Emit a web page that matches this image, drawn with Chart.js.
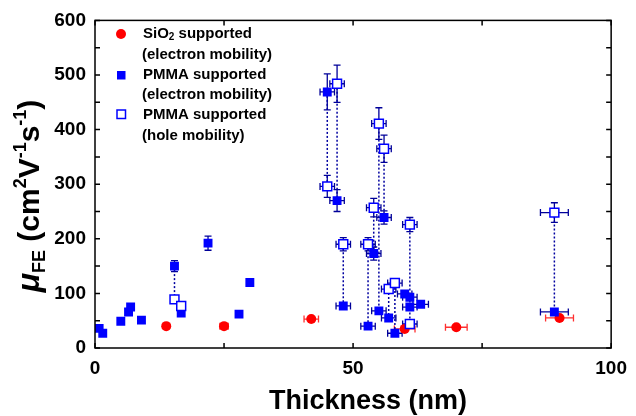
<!DOCTYPE html>
<html>
<head>
<meta charset="utf-8">
<script src="https://cdn.jsdelivr.net/npm/chart.js@4.4.0/dist/chart.umd.min.js"></script>
<style>
  html, body { margin: 0; padding: 0; background: #fff; }
</style>
</head>
<body>
<canvas id="chart" width="636" height="416"></canvas>
<script>
// SiO2 supported (electron mobility)
sio2_x    = [13.8, 25.0, 41.9, 60.0, 70.0, 90.0];
sio2_y    = [40, 40, 53, 35, 38, 55];
sio2_xerr = [0, 0.8, 1.4, 2.0, 2.1, 2.7];
sio2_yerr = [0, 0, 0, 0, 0, 0];

// PMMA supported (electron mobility)
pe_x    = [0.8, 1.5, 5.0, 6.5, 6.9, 9.0, 15.4, 16.7, 21.9, 27.9, 30.0,
           45.0, 46.9, 48.1, 54.0, 56.0, 60.0, 61.0, 63.1, 61.0, 55.0, 56.9, 52.9, 58.1, 89.0];
pe_y    = [36, 27, 49, 66, 75, 51, 150, 64, 192, 62, 120,
           469, 270, 77, 173, 239, 99, 93, 80, 75, 68, 55, 40, 27, 66];
pe_xerr = [0, 0, 0, 0, 0, 0, 0, 0, 0, 0, 0,
           1.4, 1.4, 1.4, 1.4, 1.4, 1.4, 1.4, 1.5, 1.4, 1.4, 1.4, 1.4, 1.4, 2.7];
pe_yerr = [0, 0, 0, 0, 0, 0, 10, 0, 13, 0, 6,
           33, 20, 5, 12, 12, 5, 5, 5, 5, 4, 4, 4, 4, 5];

// PMMA supported (hole mobility)
ph_x    = [15.4, 16.7, 45.0, 46.9, 48.1, 52.9, 54.0, 55.0, 56.0, 56.9, 58.1, 61.0, 61.0, 89.0];
ph_y    = [89, 77, 296, 484, 190, 190, 257, 411, 365, 108, 119, 226, 44, 248];
ph_xerr = [0, 0, 1.4, 1.4, 1.4, 1.4, 1.4, 1.4, 1.4, 1.4, 1.4, 1.4, 1.4, 2.7];
ph_yerr = [0, 0, 20, 34, 12, 12, 17, 29, 25, 8, 8, 13, 5, 18];

// dotted lines joining electron / hole values of one sample
pair_x   = [15.4, 45.0, 46.9, 48.1, 52.9, 54.0, 55.0, 56.0, 56.9, 58.1, 61.0, 89.0];
pair_top = [150, 469, 484, 190, 190, 257, 411, 365, 108, 119, 226, 248];
pair_bot = [89, 296, 270, 77, 40, 173, 68, 239, 55, 27, 44, 66];

x_ticks = [0, 25, 50, 75, 100];
y_ticks = [0, 50, 100, 150, 200, 250, 300, 350, 400, 450, 500, 550, 600];

FONT = "'Liberation Sans', Arial, sans-serif";

function pts(xs, ys) {
  let out = [];
  for (let i = 0; i < xs.length; i++) out.push({x: xs[i], y: ys[i]});
  return out;
}

datasets = [];
for (let i = 0; i < pair_x.length; i++) {
  datasets.push({
    type: 'line',
    data: [{x: pair_x[i], y: pair_top[i]}, {x: pair_x[i], y: pair_bot[i]}],
    borderColor: '#0000a0',
    borderWidth: 1.5,
    borderDash: [2, 2],
    pointRadius: 0,
    fill: false,
    order: 10,
  });
}
datasets.push({
  label: 'SiO2 supported',
  data: pts(sio2_x, sio2_y),
  errX: sio2_xerr, errY: sio2_yerr, errColor: '#ff3030',
  pointStyle: 'circle', pointRadius: 5,
  backgroundColor: '#ff0000', borderColor: '#ff0000', borderWidth: 0,
  order: 3,
});
datasets.push({
  label: 'PMMA electron',
  data: pts(pe_x, pe_y),
  errX: pe_xerr, errY: pe_yerr, errColor: '#000099',
  pointStyle: 'rect', pointRadius: 6.3,
  backgroundColor: '#0000ff', borderColor: '#0000ff', borderWidth: 0,
  order: 2,
});
datasets.push({
  label: 'PMMA hole',
  data: pts(ph_x, ph_y),
  errX: ph_xerr, errY: ph_yerr, errColor: '#000099',
  pointStyle: 'rect', pointRadius: 6.3,
  backgroundColor: '#ffffff', borderColor: '#0000ff', borderWidth: 1.5,
  order: 1,
});

// error bars, drawn under the markers
errorBars = {
  id: 'errorBars',
  beforeDatasetsDraw(chart) {
    const ctx = chart.ctx, xs = chart.scales.x, ys = chart.scales.y;
    const cap = 3.5;
    chart.data.datasets.forEach(ds => {
      if (!ds.errX) return;
      ctx.save();
      ctx.strokeStyle = ds.errColor;
      ctx.lineWidth = 1.3;
      ds.data.forEach((p, i) => {
        const px = xs.getPixelForValue(p.x), py = ys.getPixelForValue(p.y);
        ctx.beginPath();
        if (ds.errY[i] > 0) {
          const y1 = ys.getPixelForValue(p.y + ds.errY[i]);
          const y2 = ys.getPixelForValue(p.y - ds.errY[i]);
          ctx.moveTo(px, y1); ctx.lineTo(px, y2);
          ctx.moveTo(px - cap, y1); ctx.lineTo(px + cap, y1);
          ctx.moveTo(px - cap, y2); ctx.lineTo(px + cap, y2);
        }
        if (ds.errX[i] > 0) {
          const x1 = xs.getPixelForValue(p.x - ds.errX[i]);
          const x2 = xs.getPixelForValue(p.x + ds.errX[i]);
          ctx.moveTo(x1, py); ctx.lineTo(x2, py);
          ctx.moveTo(x1, py - cap); ctx.lineTo(x1, py + cap);
          ctx.moveTo(x2, py - cap); ctx.lineTo(x2, py + cap);
        }
        ctx.stroke();
      });
      ctx.restore();
    });
  }
};

// box round the plot with inward ticks on all four sides
frame = {
  id: 'frame',
  afterDraw(chart) {
    const ctx = chart.ctx, a = chart.chartArea;
    const xs = chart.scales.x, ys = chart.scales.y;
    ctx.save();
    ctx.strokeStyle = '#000';
    ctx.lineWidth = 1.5;
    ctx.strokeRect(a.left, a.top, a.right - a.left, a.bottom - a.top);
    ctx.beginPath();
    x_ticks.forEach(v => {
      const px = xs.getPixelForValue(v);
      ctx.moveTo(px, a.bottom); ctx.lineTo(px, a.bottom - 5);
      ctx.moveTo(px, a.top); ctx.lineTo(px, a.top + 5);
    });
    y_ticks.forEach(v => {
      const py = ys.getPixelForValue(v);
      ctx.moveTo(a.left, py); ctx.lineTo(a.left + 5, py);
      ctx.moveTo(a.right, py); ctx.lineTo(a.right - 5, py);
    });
    ctx.stroke();
    ctx.restore();
  }
};

// axis titles: Thickness (nm) and mu_FE (cm^2 V^-1 s^-1)
axisTitles = {
  id: 'axisTitles',
  afterDraw(chart) {
    const ctx = chart.ctx;
    ctx.save();
    ctx.fillStyle = '#000';
    ctx.textBaseline = 'alphabetic';
    ctx.textAlign = 'center';
    ctx.font = 'bold 27px ' + FONT;
    ctx.fillText('Thickness (nm)', 368, 409);

    ctx.textAlign = 'left';
    const big = 'bold 30px ' + FONT, small = 'bold 18px ' + FONT;
    const pieces = [
      {t: '\u03bc', f: 'italic bold 32px ' + FONT, dy: 0},
      {t: 'FE', f: small, dy: 6},
      {t: ' (cm', f: big, dy: 0},
      {t: '2', f: small, dy: -13},
      {t: 'V', f: big, dy: 0},
      {t: '-1', f: small, dy: -13},
      {t: 's', f: big, dy: 0},
      {t: '-1', f: small, dy: -13},
      {t: ')', f: big, dy: 0},
    ];
    let total = 0;
    pieces.forEach(p => { ctx.font = p.f; p.w = ctx.measureText(p.t).width; total += p.w; });
    ctx.translate(39, 196);
    ctx.rotate(-Math.PI / 2);
    let x = -total / 2;
    pieces.forEach(p => {
      ctx.font = p.f;
      ctx.fillText(p.t, x, p.dy);
      x += p.w;
    });
    ctx.restore();
  }
};

// legend inside the plot
legendBox = {
  id: 'legendBox',
  afterDraw(chart) {
    const ctx = chart.ctx;
    ctx.save();
    // markers
    ctx.fillStyle = '#ff0000';
    ctx.beginPath(); ctx.arc(121, 34, 5, 0, 2 * Math.PI); ctx.fill();
    ctx.fillStyle = '#0000ff';
    ctx.fillRect(117, 71, 8.5, 8.5);
    ctx.fillStyle = '#fff';
    ctx.strokeStyle = '#0000ff';
    ctx.lineWidth = 1.5;
    ctx.fillRect(117, 110, 8.5, 8.5);
    ctx.strokeRect(117, 110, 8.5, 8.5);
    // texts
    ctx.fillStyle = '#000';
    ctx.textBaseline = 'middle';
    ctx.font = 'bold 15px ' + FONT;
    let w = ctx.measureText('SiO').width;
    ctx.fillText('SiO', 143, 34);
    ctx.font = 'bold 10px ' + FONT;
    ctx.fillText('2', 143 + w, 37);
    let w2 = ctx.measureText('2').width;
    ctx.font = 'bold 15px ' + FONT;
    ctx.fillText(' supported', 143 + w + w2, 34);
    ctx.fillText('(electron mobility)', 142, 55);
    ctx.fillText('PMMA supported', 143, 75);
    ctx.fillText('(electron mobility)', 142, 95);
    ctx.fillText('PMMA supported', 143, 115);
    ctx.fillText('(hole mobility)', 142, 136);
    ctx.restore();
  }
};

const ctx = document.getElementById('chart').getContext('2d');
myChart = new Chart(ctx, {
  type: 'scatter',
  data: { datasets: datasets },
  options: {
    responsive: false,
    animation: false,
    layout: { padding: { top: 19, right: 21, left: 0, bottom: 0 } },
    plugins: { legend: { display: false }, tooltip: { enabled: false } },
    scales: {
      x: {
        type: 'linear', min: 0, max: 100,
        afterFit(s) { s.height = 68; },
        grid: { display: false, drawTicks: false },
        border: { display: false },
        ticks: {
          stepSize: 25, padding: 9, maxRotation: 0, autoSkip: false,
          color: '#000', font: { family: FONT, size: 19, weight: 'bold' },
          callback: v => (v % 50 === 0 ? v : ''),
        },
      },
      y: {
        type: 'linear', min: 0, max: 600,
        afterFit(s) { s.width = 95; },
        grid: { display: false, drawTicks: false },
        border: { display: false },
        ticks: {
          stepSize: 50, padding: 9, autoSkip: false,
          color: '#000', font: { family: FONT, size: 19, weight: 'bold' },
          callback: v => (v % 100 === 0 ? v : ''),
        },
      },
    },
  },
  plugins: [errorBars, frame, axisTitles, legendBox],
});
</script>
</body>
</html>
